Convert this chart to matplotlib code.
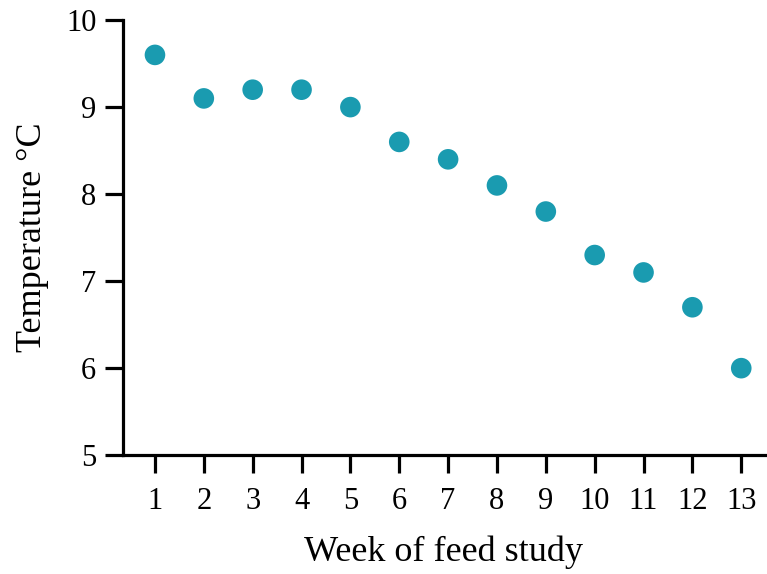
import numpy as np
import matplotlib
matplotlib.use("Agg")
import matplotlib.pyplot as plt

plt.rcParams['font.family'] = ['Liberation Serif', 'DejaVu Serif']

# data
weeks = [1, 2, 3, 4, 5, 6, 7, 8, 9, 10, 11, 12, 13]
temps = [9.6, 9.1, 9.2, 9.2, 9.0, 8.6, 8.4, 8.1, 7.8, 7.3, 7.1, 6.7, 6.0]

fig = plt.figure(figsize=(7.67, 5.74), dpi=100)
ax = fig.add_axes([0.160, 0.207, 0.837, 0.758])

ax.scatter(weeks, temps, s=220, color='#1a9bb0', edgecolors='none', zorder=3)

ax.set_xlim(0.34, 13.48)
ax.set_ylim(5, 10)
ax.set_xticks(weeks)
ax.set_yticks([5, 6, 7, 8, 9, 10])

for side in ['top', 'right']:
    ax.spines[side].set_visible(False)
for side in ['left', 'bottom']:
    ax.spines[side].set_linewidth(2.3)

ax.tick_params(axis='both', length=13, width=2.3, labelsize=22)
ax.tick_params(axis='x', pad=10)
ax.tick_params(axis='y', pad=6)
ax.set_xlabel('Week of feed study', fontsize=26, labelpad=14)
ax.set_ylabel('Temperature \u00b0C', fontsize=26, labelpad=12)

fig.savefig('out.png', dpi=100)
